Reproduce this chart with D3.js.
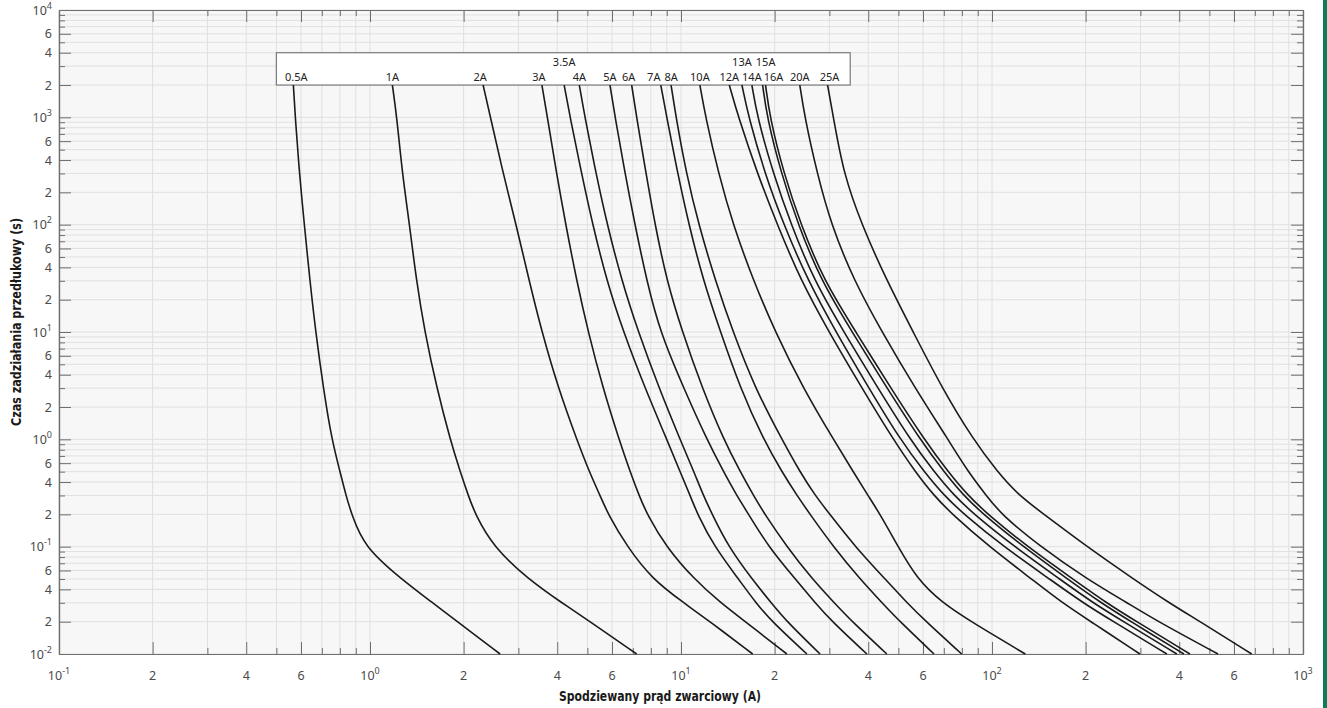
<!DOCTYPE html>
<html>
<head>
<meta charset="utf-8">
<script src="https://cdn.jsdelivr.net/npm/d3@7"></script>
<style>
  body { margin: 0; background: #fff; }
  svg text { font-family: "Noto Sans", "Open Sans", sans-serif; }
  .axis-title { font-family: "Liberation Sans Narrow", "DejaVu Sans Condensed", sans-serif; font-weight: bold; font-size: 14.5px; fill: #1a1a1a; }
</style>
</head>
<body>
<script>
// pre-arcing time levels (s)
const timeLevels = [2000, 1000, 300, 100, 30, 10, 3, 1, 0.5, 0.3, 0.2, 0.1, 0.05, 0.03, 0.02, 0.01]

// prospective current (A) of each fuse at those time levels
const i05A = [0.567, 0.575, 0.593, 0.615, 0.641, 0.669, 0.708, 0.753, 0.801, 0.837, 0.873, 0.957, 1.26, 1.59, 1.91, 2.62]
const i1A  = [1.18, 1.22, 1.27, 1.34, 1.41, 1.50, 1.64, 1.81, 1.95, 2.07, 2.18, 2.49, 3.22, 4.14, 5.10, 7.20]
const i2A  = [2.31, 2.44, 2.68, 2.95, 3.25, 3.57, 4.03, 4.62, 5.07, 5.49, 5.83, 6.71, 8.07, 10.2, 12.4, 17.0]
const i3A  = [3.57, 3.72, 3.98, 4.26, 4.62, 5.03, 5.61, 6.32, 6.86, 7.33, 7.78, 8.95, 11.0, 13.4, 16.1, 21.9]
const i35A = [4.21, 4.40, 4.79, 5.20, 5.77, 6.53, 7.66, 9.00, 9.93, 10.7, 11.3, 12.8, 15.3, 17.4, 19.6, 25.4]
const i4A  = [4.71, 4.91, 5.33, 5.79, 6.45, 7.29, 8.50, 9.93, 11.0, 11.8, 12.6, 14.2, 16.9, 19.5, 21.9, 28.0]
const i5A  = [5.91, 6.14, 6.61, 7.11, 7.76, 8.56, 10.2, 12.1, 13.7, 15.1, 16.5, 19.1, 23.3, 27.0, 30.6, 39.6]
const i6A  = [6.94, 7.20, 7.72, 8.25, 9.00, 10.1, 11.7, 13.7, 15.5, 17.1, 18.6, 21.9, 26.4, 31.1, 35.5, 45.9]
const i7A  = [8.61, 9.00, 9.76, 10.6, 11.8, 13.4, 15.5, 18.4, 21.1, 23.6, 26.0, 30.9, 37.6, 44.3, 50.6, 65.1]
const i8A  = [9.29, 9.64, 10.4, 11.4, 12.9, 14.7, 17.3, 21.1, 24.1, 27.0, 30.1, 36.3, 45.3, 53.3, 61.4, 79.9]
const i10A = [11.5, 12.0, 13.2, 14.7, 17.1, 20.1, 24.7, 30.9, 35.8, 39.9, 43.7, 49.9, 57.4, 69.1, 85.6, 128]
const i12A = [14.3, 15.3, 17.6, 20.4, 24.3, 29.9, 38.2, 48.1, 56.6, 65.0, 74.5, 98.0, 134, 168, 208, 299]
const i13A = [15.7, 16.5, 18.6, 21.4, 25.6, 31.5, 40.2, 50.6, 60.5, 70.1, 81.3, 109, 153, 196, 246, 365]
const i14A = [16.9, 17.6, 19.8, 22.6, 26.8, 33.4, 43.0, 54.5, 65.1, 75.5, 87.6, 118, 165, 211, 265, 393]
const i15A = [18.3, 18.9, 21.0, 23.8, 28.2, 35.5, 46.0, 58.7, 70.0, 81.0, 93.8, 126, 175, 224, 280, 414]
const i16A = [18.7, 19.3, 21.4, 24.3, 28.8, 36.5, 47.3, 60.5, 72.2, 83.7, 96.9, 130, 182, 233, 292, 433]
const i20A = [24.1, 25.0, 27.4, 30.4, 36.0, 44.3, 56.6, 72.2, 83.7, 95.9, 107, 143, 202, 272, 342, 533]
const i25A = [29.6, 30.9, 33.3, 38.1, 45.9, 55.8, 69.1, 86.9, 104, 122, 147, 202, 285, 371, 467, 684]

const fuseNames = ['0.5A', '1A', '2A', '3A', '3.5A', '4A', '5A', '6A', '7A', '8A', '10A', '12A', '13A', '14A', '15A', '16A', '20A', '25A']
const fuseCurrents = [i05A, i1A, i2A, i3A, i35A, i4A, i5A, i6A, i7A, i8A, i10A, i12A, i13A, i14A, i15A, i16A, i20A, i25A]

const xTickValues = [0.1, 0.2, 0.4, 0.6, 1, 2, 4, 6, 10, 20, 40, 60, 100, 200, 400, 600, 1000]
const xTickLabels = ['10^-1', '2', '4', '6', '10^0', '2', '4', '6', '10^1', '2', '4', '6', '10^2', '2', '4', '6', '10^3']
const yTickValues = [0.01, 0.02, 0.04, 0.06, 0.1, 0.2, 0.4, 0.6, 1, 2, 4, 6, 10, 20, 40, 60, 100, 200, 400, 600, 1000, 2000, 4000, 6000, 10000]
const yTickLabels = ['10^-2', '2', '4', '6', '10^-1', '2', '4', '6', '10^0', '2', '4', '6', '10^1', '2', '4', '6', '10^2', '2', '4', '6', '10^3', '2', '4', '6', '10^4']

const xTitle = 'Spodziewany prąd zwarciowy (A)'
const yTitle = 'Czas zadziałania przedłukowy (s)'

const w = 1327
const h = 708
const plotLeft = 59, plotRight = 1303, plotTop = 10, plotBottom = 654
const axisColor = '#6e6e6e'

const svg = d3.select('body')
  .append('svg')
  .attr('width', w)
  .attr('height', h)

const x = d3.scaleLog().domain([0.1, 1000]).range([plotLeft, plotRight])
const y = d3.scaleLog().domain([0.01, 10000]).range([plotBottom, plotTop])

// plot background
svg.append('rect')
  .attr('x', plotLeft).attr('y', plotTop)
  .attr('width', plotRight - plotLeft).attr('height', plotBottom - plotTop)
  .attr('fill', '#f7f7f7')

// grid at every 1..9 step
const xAll = x.ticks()
const yAll = y.ticks()
svg.append('g').selectAll('line')
  .data(xAll)
  .enter()
  .append('line')
  .attr('x1', d => x(d)).attr('x2', d => x(d))
  .attr('y1', plotTop).attr('y2', plotBottom)
  .attr('stroke', '#e2dfdf').attr('stroke-width', 1)
svg.append('g').selectAll('line')
  .data(yAll)
  .enter()
  .append('line')
  .attr('y1', d => y(d)).attr('y2', d => y(d))
  .attr('x1', plotLeft).attr('x2', plotRight)
  .attr('stroke', '#e2dfdf').attr('stroke-width', 1)

// inward ticks on all four sides
const xMinor = xAll.filter(v => !xTickValues.some(t => Math.abs(t - v) / t < 1e-6))
const yMinor = yAll.filter(v => !yTickValues.some(t => Math.abs(t - v) / t < 1e-6))

const styleAxis = g => {
  g.select('.domain').attr('stroke', axisColor).attr('stroke-width', 1.2)
  g.selectAll('.tick line').attr('stroke', axisColor)
  g.selectAll('.tick text').remove()
}
const addAxis = (axisFn, scale, pos, values, size) => {
  svg.append('g')
    .attr('transform', pos)
    .call(axisFn(scale).tickValues(values).tickSize(-size).tickSizeOuter(0).tickFormat(''))
    .call(styleAxis)
}
addAxis(d3.axisBottom, x, `translate(0,${plotBottom})`, xMinor, 6)
addAxis(d3.axisBottom, x, `translate(0,${plotBottom})`, xTickValues, 12)
addAxis(d3.axisTop, x, `translate(0,${plotTop})`, xMinor, 6)
addAxis(d3.axisTop, x, `translate(0,${plotTop})`, xTickValues, 12)
addAxis(d3.axisLeft, y, `translate(${plotLeft},0)`, yMinor, 6)
addAxis(d3.axisLeft, y, `translate(${plotLeft},0)`, yTickValues, 12)
addAxis(d3.axisRight, y, `translate(${plotRight},0)`, yMinor, 6)
addAxis(d3.axisRight, y, `translate(${plotRight},0)`, yTickValues, 12)

// tick labels with superscript exponents
const writeLabel = (sel, label) => {
  const parts = label.split('^')
  sel.append('tspan').text(parts[0])
  if (parts.length > 1) {
    sel.append('tspan').attr('dy', -6).attr('font-size', 9).text(parts[1])
  }
}
xTickValues.forEach((v, i) => {
  const t = svg.append('text')
    .attr('x', x(v)).attr('y', plotBottom + 26)
    .attr('text-anchor', 'middle')
    .attr('font-size', 12.5)
    .attr('fill', '#4a4a4a')
  writeLabel(t, xTickLabels[i])
})
yTickValues.forEach((v, i) => {
  const t = svg.append('text')
    .attr('x', plotLeft - 7).attr('y', y(v) + 4.5)
    .attr('text-anchor', 'end')
    .attr('font-size', 12.5)
    .attr('fill', '#4a4a4a')
  writeLabel(t, yTickLabels[i])
})

// label box
svg.append('rect')
  .attr('x', x(0.5)).attr('y', y(4000))
  .attr('width', x(35) - x(0.5)).attr('height', y(2000) - y(4000))
  .attr('fill', '#fff')
  .attr('stroke', '#7a7a7a').attr('stroke-width', 1.2)

// fuse curves, smoothed through the read points
const line = d3.line()
  .x(d => x(d[0]))
  .y(d => y(d[1]))
  .curve(d3.curveBasis)

svg.append('g').selectAll('path')
  .data(fuseCurrents)
  .enter()
  .append('path')
  .attr('d', d => line(d.map((c, i) => [c, timeLevels[i]])))
  .attr('fill', 'none')
  .attr('stroke', '#1b1b1b')
  .attr('stroke-width', 1.6)

// curve names at the top of each curve
const upperRow = ['3.5A', '13A', '15A']
const nudge = { '0.5A': 3, '2A': -3, '3A': -3, '6A': -3, '7A': -7, '15A': 3, '16A': 8, '25A': 2 }
svg.append('g').selectAll('text')
  .data(fuseNames)
  .enter()
  .append('text')
  .attr('x', (d, i) => x(fuseCurrents[i][0]) + (nudge[d] || 0))
  .attr('y', d => upperRow.includes(d) ? y(2000) - 19 : y(2000) - 4)
  .attr('text-anchor', 'middle')
  .attr('font-size', 11)
  .attr('fill', '#222')
  .text(d => d)

// axis titles
svg.append('text')
  .attr('class', 'axis-title')
  .attr('x', 660).attr('y', 701)
  .attr('text-anchor', 'middle')
  .attr('textLength', 202)
  .attr('lengthAdjust', 'spacingAndGlyphs')
  .text(xTitle)
svg.append('text')
  .attr('class', 'axis-title')
  .attr('transform', 'translate(21,322) rotate(-90)')
  .attr('text-anchor', 'middle')
  .attr('textLength', 208)
  .attr('lengthAdjust', 'spacingAndGlyphs')
  .text(yTitle)

// green page edge
svg.append('rect')
  .attr('x', 1323).attr('y', 0)
  .attr('width', 4).attr('height', h)
  .attr('fill', '#0c7b59')
</script>
</body>
</html>
